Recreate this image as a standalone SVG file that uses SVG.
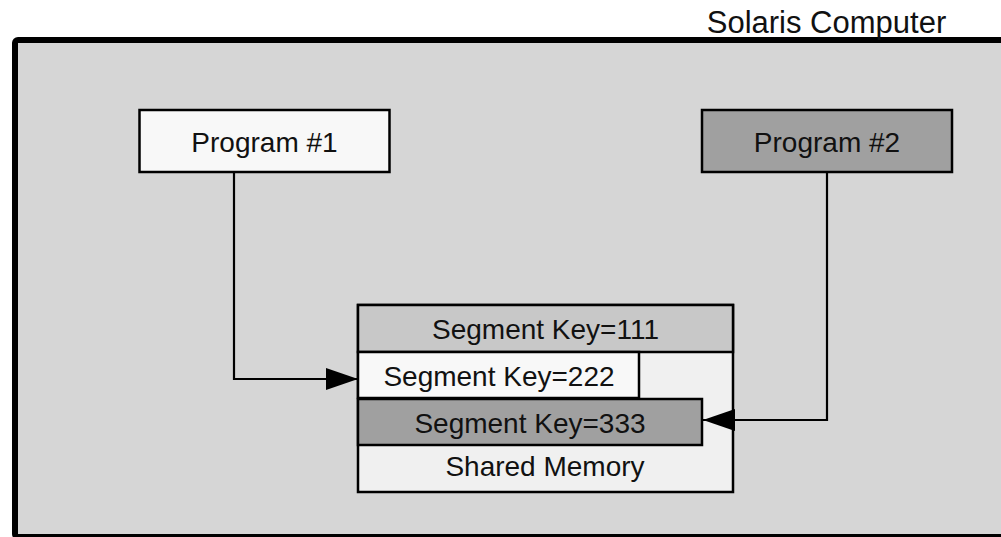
<svg xmlns="http://www.w3.org/2000/svg" width="1001" height="537" viewBox="0 0 1001 537">
  <style>
    .lbl { font-family: "Liberation Sans", Arial, sans-serif; font-size: 28px; fill: #111; text-anchor: middle; }
    .title { font-size: 31px; }
    .box { stroke: #000; stroke-width: 2.5; }
    .wire { fill: none; stroke: #000; stroke-width: 2.2; }
  </style>
  <defs>
    <marker id="arrow" markerUnits="userSpaceOnUse" markerWidth="34" markerHeight="24" refX="32" refY="11" orient="auto">
      <path d="M0,0 L32,11 L0,22 Z" fill="#000"/>
    </marker>
  </defs>

  <!-- host machine frame -->
  <g id="computer">
    <rect x="15" y="40" width="1000" height="497" rx="3" fill="#d6d6d6" stroke="#000" stroke-width="6"/>
    <text class="lbl title" x="826.5" y="33">Solaris Computer</text>
  </g>

  <g id="program1">
    <rect class="box" x="139.5" y="110" width="250" height="62" fill="#f8f8f8"/>
    <text class="lbl" x="264.5" y="152">Program #1</text>
  </g>

  <g id="program2">
    <rect class="box" x="702" y="110" width="250" height="62" fill="#a0a0a0"/>
    <text class="lbl" x="827" y="152">Program #2</text>
  </g>

  <!-- shared memory area with its segments -->
  <g id="shared-memory">
    <rect class="box" x="358" y="305" width="375" height="187" fill="#f0f0f0"/>
    <text class="lbl" x="545" y="476">Shared Memory</text>
  </g>

  <g id="segment-111">
    <rect class="box" x="358" y="305" width="375" height="47" fill="#c8c8c8"/>
    <text class="lbl" x="545.5" y="339">Segment Key=111</text>
  </g>

  <g id="segment-222">
    <rect class="box" x="358" y="352" width="281" height="46" fill="#f8f8f8"/>
    <text class="lbl" x="499" y="386">Segment Key=222</text>
  </g>

  <g id="segment-333">
    <rect class="box" x="358" y="399" width="344" height="46" fill="#a0a0a0"/>
    <text class="lbl" x="530" y="433">Segment Key=333</text>
  </g>

  <g id="connectors">
    <path class="wire" d="M234,172 V379 H358" marker-end="url(#arrow)"/>
    <path class="wire" d="M827,172 V420 H703" marker-end="url(#arrow)"/>
  </g>
</svg>
